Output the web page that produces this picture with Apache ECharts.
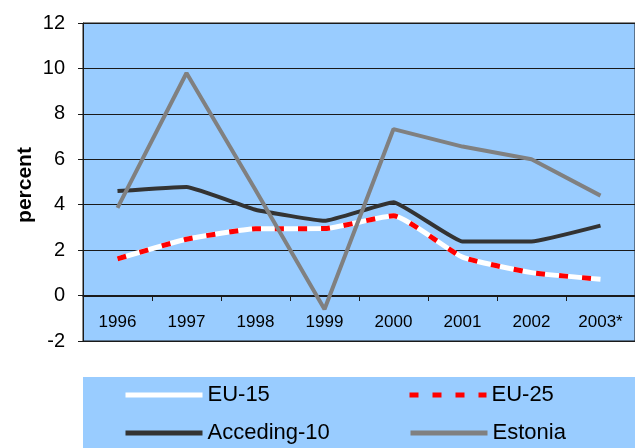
<!DOCTYPE html>
<html>
<head>
<meta charset="utf-8">
<script src="https://cdn.jsdelivr.net/npm/echarts@6/dist/echarts.min.js"></script>
<style>
  html, body { margin: 0; padding: 0; background: #fff; }
  #chart { width: 635px; height: 448px; }
</style>
</head>
<body>
<div id="chart"></div>
<script>
const years = ["1996", "1997", "1998", "1999", "2000", "2001", "2002", "2003*"];
const eu15 = [1.62, 2.48, 2.94, 2.95, 3.51, 1.69, 1.01, 0.72];
const eu25 = [1.62, 2.48, 2.94, 2.95, 3.51, 1.69, 1.01, 0.72];
const acceding10 = [4.6, 4.78, 3.78, 3.29, 4.11, 2.38, 2.38, 3.08];
const estonia = [3.86, 9.8, 4.65, -0.6, 7.33, 6.56, 6.0, 4.4];

const FONT = "Liberation Sans, Arial, sans-serif";
const BG = "#99CCFF";
const DARK = "#1a1a1a";

const chart = echarts.init(document.getElementById("chart"), null, { renderer: "canvas" });

// one legend per entry so each can be placed like the original
function legendAt(name, left, top, lineStyle) {
  return {
    data: [name],
    left: left,
    top: top,
    padding: 0,
    itemWidth: 77,
    itemHeight: 14,
    selectedMode: false,
    itemStyle: { opacity: 0 },
    lineStyle: lineStyle,
    textStyle: { color: "#000", fontSize: 22, fontFamily: FONT },
  };
}

chart.setOption({
  animation: false,
  textStyle: { fontFamily: FONT },
  graphic: [
    {
      type: "rect",
      shape: { x: 83, y: 377, width: 560, height: 80 },
      style: { fill: BG },
      z: -1,
    },
    {
      type: "text",
      x: 25,
      y: 185,
      rotation: Math.PI / 2,
      style: {
        text: "percent",
        fill: "#000",
        font: "bold 21px " + FONT,
        align: "center",
        verticalAlign: "middle",
      },
    },
  ],
  grid: {
    left: 83,
    top: 23,
    right: -9,
    bottom: 107,
    show: true,
    backgroundColor: BG,
    borderColor: DARK,
    borderWidth: 1,
  },
  legend: [
    legendAt("EU-15", 123, 384, { color: "#ffffff", width: 5, type: "solid" }),
    legendAt("EU-25", 407, 384, { color: "#ff0000", width: 5, type: [9, 14] }),
    legendAt("Acceding-10", 123, 422, { color: "#333333", width: 5, type: "solid" }),
    legendAt("Estonia", 408, 422, { color: "#808080", width: 5, type: "solid" }),
  ],
  xAxis: {
    type: "category",
    data: years,
    boundaryGap: true,
    offset: -45,
    axisLine: { onZero: false, lineStyle: { color: DARK, width: 1 } },
    axisTick: { show: true, length: 5, inside: false, lineStyle: { color: DARK } },
    axisLabel: { color: "#000", fontSize: 17, margin: 18, fontFamily: FONT },
    splitLine: { show: false },
  },
  yAxis: {
    type: "value",
    min: -2,
    max: 12,
    interval: 2,
    axisLine: { show: true, lineStyle: { color: DARK, width: 1 } },
    axisTick: { show: true, length: 5, lineStyle: { color: DARK } },
    axisLabel: { color: "#000", fontSize: 20, margin: 18, fontFamily: FONT },
    splitLine: { show: true, lineStyle: { color: DARK, width: 1 } },
  },
  series: [
    {
      name: "EU-15",
      type: "line",
      data: eu15,
      symbol: "none",
      smooth: 0.15,
      color: "#ffffff",
      lineStyle: { color: "#ffffff", width: 5 },
      z: 3,
    },
    {
      name: "EU-25",
      type: "line",
      data: eu25,
      symbol: "none",
      smooth: 0.15,
      color: "#ff0000",
      lineStyle: { color: "#ff0000", width: 5, type: [9, 14] },
      z: 4,
    },
    {
      name: "Acceding-10",
      type: "line",
      data: acceding10,
      symbol: "none",
      smooth: 0.1,
      color: "#333333",
      lineStyle: { color: "#333333", width: 4 },
      z: 2,
    },
    {
      name: "Estonia",
      type: "line",
      data: estonia,
      symbol: "none",
      color: "#808080",
      lineStyle: { color: "#808080", width: 4 },
      z: 5,
    },
  ],
});
</script>
</body>
</html>
